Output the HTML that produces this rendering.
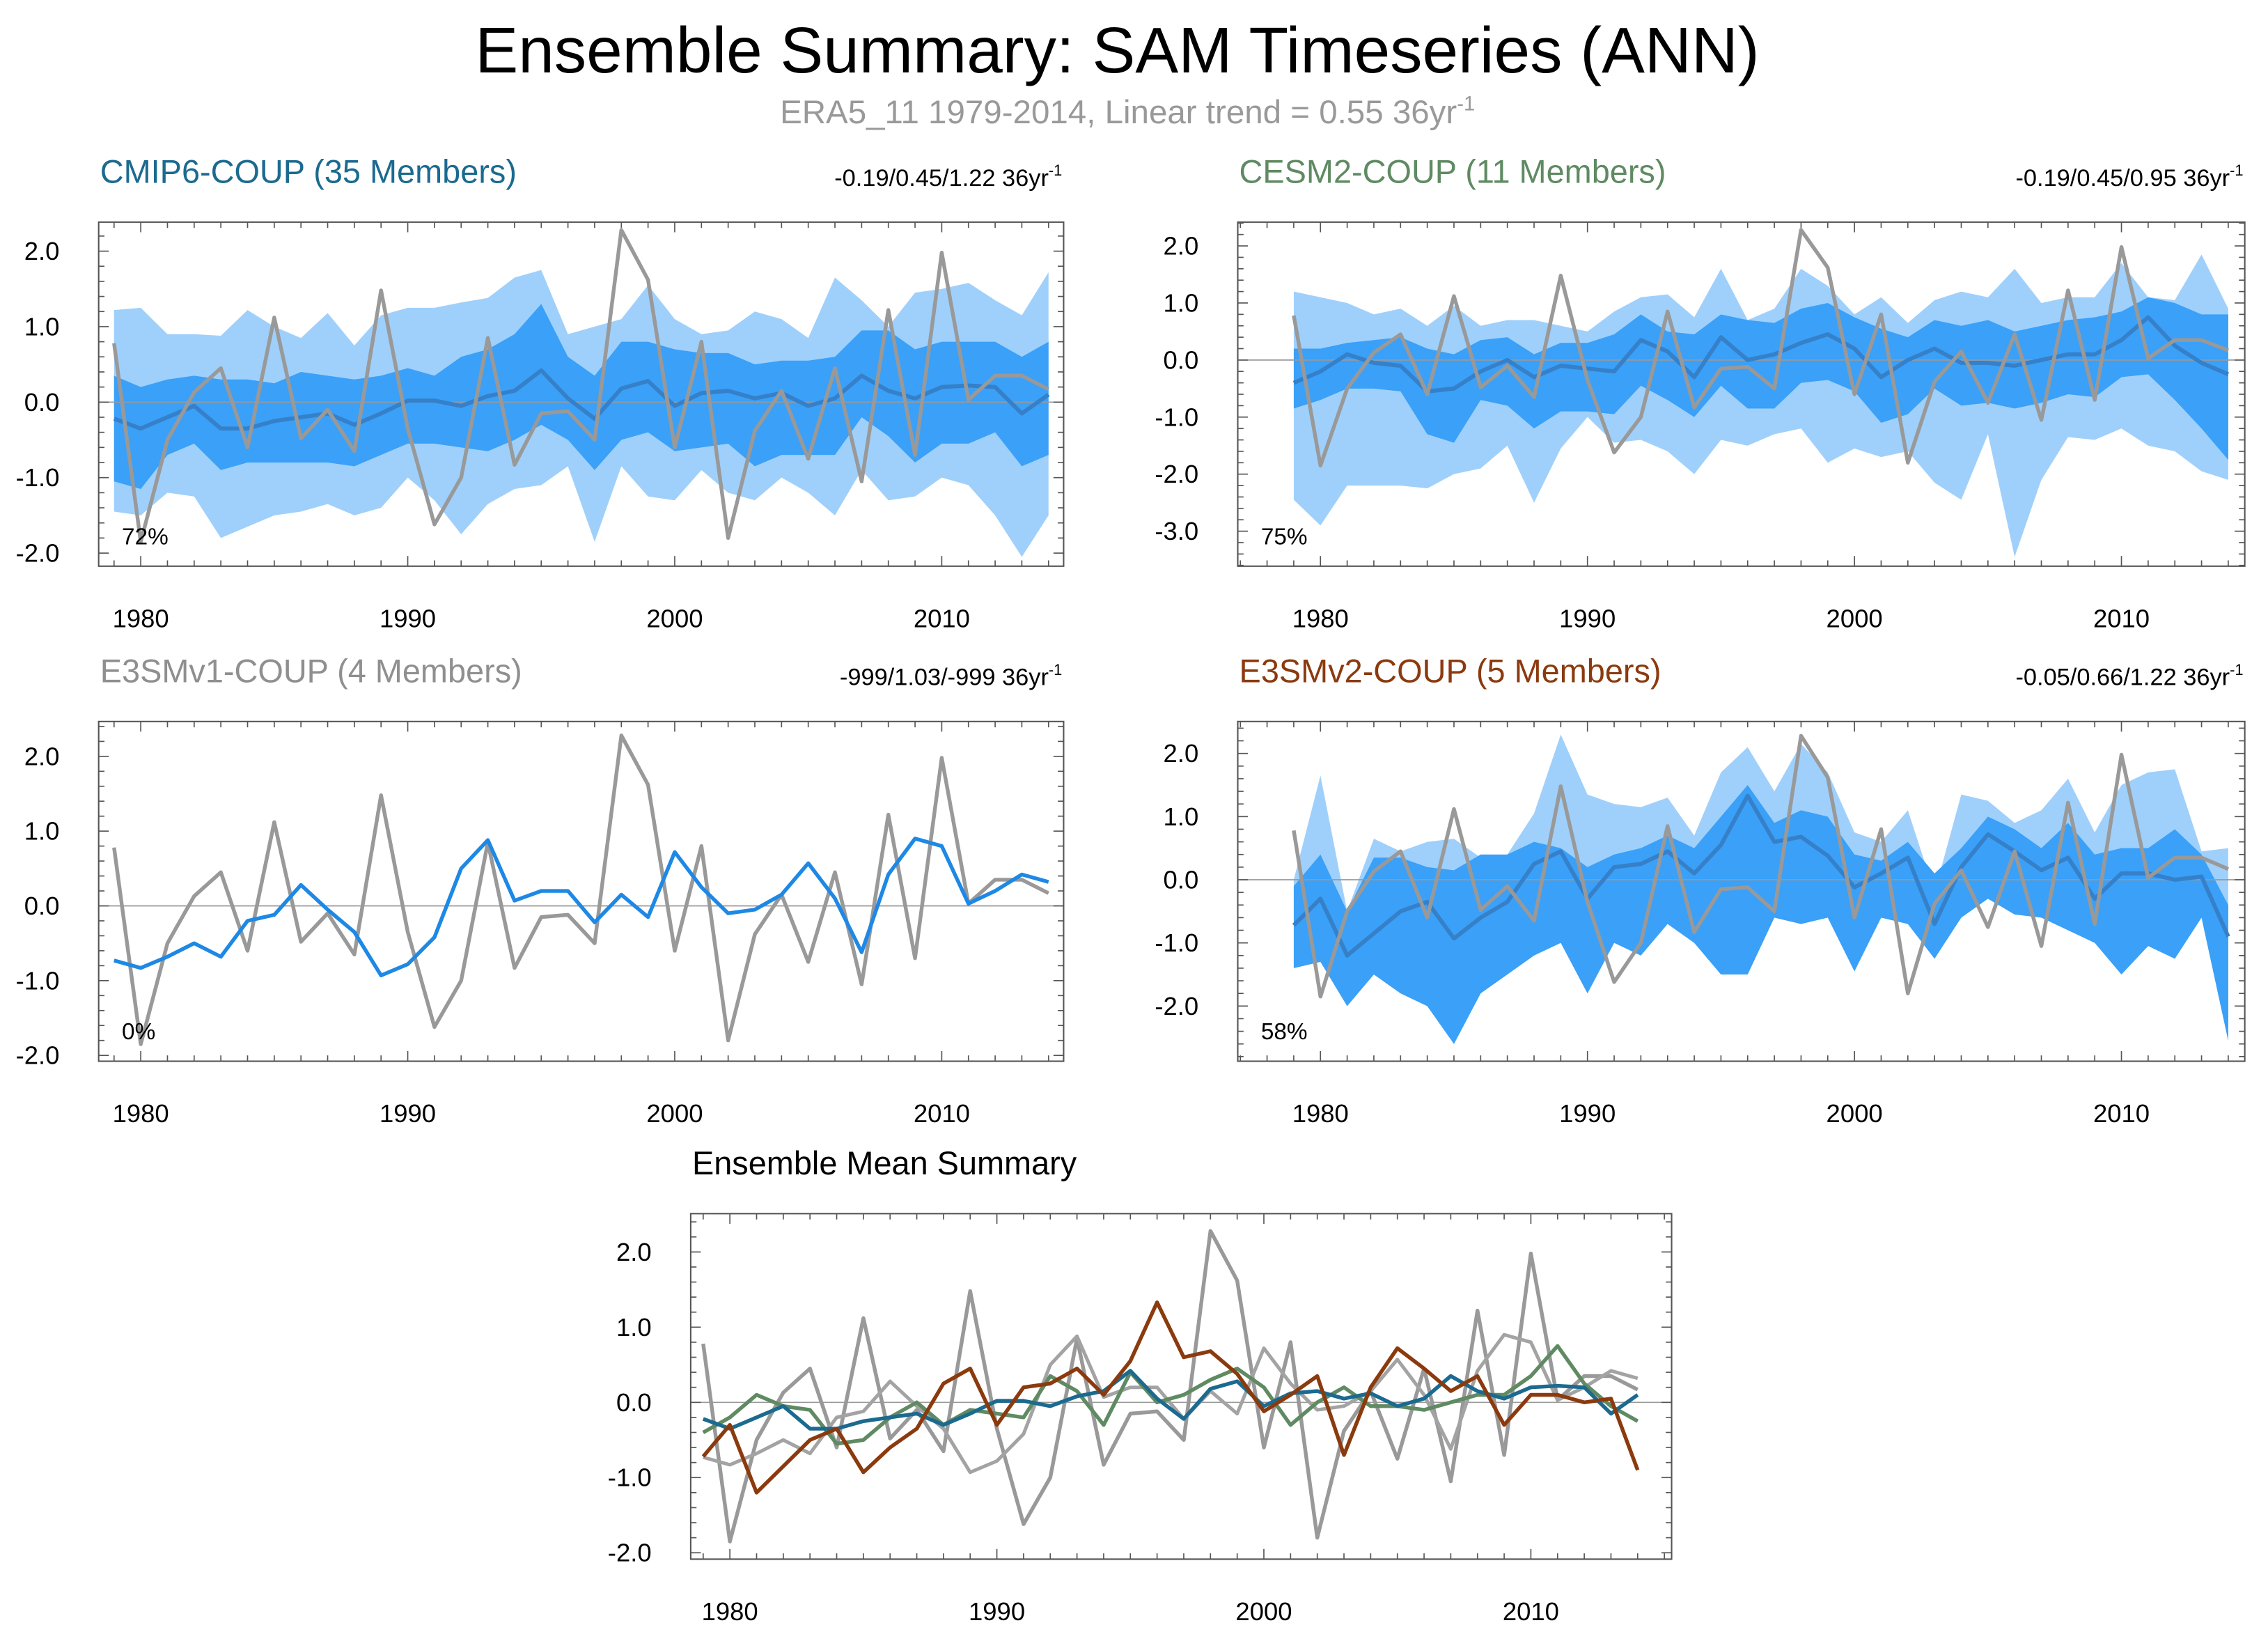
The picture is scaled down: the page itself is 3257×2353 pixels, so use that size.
<!DOCTYPE html>
<html><head><meta charset="utf-8">
<style>
html,body{margin:0;padding:0;background:#fff;}
svg{display:block;font-family:"Liberation Sans",sans-serif;}
</style></head>
<body>
<svg id="fig" width="3257" height="2353" viewBox="0 0 1563 1129" preserveAspectRatio="none" xmlns="http://www.w3.org/2000/svg">
<text x="770" y="50" font-size="44.5" text-anchor="middle" fill="#000">Ensemble Summary: SAM Timeseries (ANN)</text>
<text x="777" y="85" font-size="22.8" text-anchor="middle" fill="#999">ERA5_11 1979-2014, Linear trend = 0.55 36yr<tspan font-size="14" dy="-9">-1</tspan></text>
</svg>
<script>
const years=[];for(let y=1979;y<=2014;y++)years.push(y);
const era5=[0.78,-1.85,-0.5,0.13,0.45,-0.6,1.12,-0.48,-0.1,-0.65,1.48,-0.35,-1.62,-1.0,0.85,-0.83,-0.15,-0.12,-0.5,2.28,1.62,-0.6,0.8,-1.8,-0.38,0.15,-0.75,0.45,-1.05,1.22,-0.7,1.98,0.03,0.35,0.35,0.17];
const cmipMean=[-0.22,-0.35,-0.2,-0.05,-0.35,-0.35,-0.25,-0.2,-0.15,-0.3,-0.15,0.02,0.02,-0.05,0.08,0.15,0.42,0.05,-0.22,0.18,0.28,-0.05,0.12,0.15,0.05,0.12,-0.05,0.05,0.35,0.15,0.05,0.2,0.22,0.2,-0.15,0.1];
const cmipInUp=[0.35,0.2,0.3,0.35,0.3,0.3,0.25,0.4,0.35,0.3,0.35,0.45,0.35,0.6,0.7,0.9,1.3,0.6,0.35,0.8,0.8,0.7,0.65,0.65,0.5,0.55,0.55,0.6,0.95,0.95,0.7,0.8,0.8,0.8,0.6,0.8];
const cmipInLo=[-1.05,-1.15,-0.7,-0.55,-0.9,-0.8,-0.8,-0.8,-0.8,-0.85,-0.7,-0.55,-0.55,-0.6,-0.65,-0.5,-0.3,-0.5,-0.9,-0.5,-0.4,-0.65,-0.6,-0.55,-0.85,-0.7,-0.7,-0.7,-0.2,-0.45,-0.8,-0.55,-0.55,-0.4,-0.85,-0.7];
const cmipOutUp=[1.22,1.25,0.9,0.9,0.88,1.22,1.0,0.85,1.18,0.75,1.15,1.25,1.25,1.32,1.38,1.65,1.75,0.9,1.0,1.1,1.55,1.1,0.9,0.95,1.2,1.1,0.85,1.65,1.35,1.0,1.45,1.5,1.58,1.35,1.15,1.72];
const cmipOutLo=[-1.45,-1.5,-1.2,-1.25,-1.8,-1.65,-1.5,-1.45,-1.35,-1.5,-1.4,-1.0,-1.3,-1.75,-1.35,-1.15,-1.1,-0.85,-1.85,-0.85,-1.25,-1.3,-0.9,-1.2,-1.3,-1.0,-1.2,-1.5,-0.9,-1.3,-1.25,-1.0,-1.1,-1.5,-2.05,-1.5];
const cesmMean=[-0.4,-0.2,0.1,-0.05,-0.1,-0.55,-0.5,-0.2,0.0,-0.3,-0.1,-0.15,-0.2,0.35,0.15,-0.3,0.4,0.0,0.1,0.3,0.45,0.2,-0.3,0.0,0.2,-0.05,-0.05,-0.1,0.0,0.1,0.1,0.35,0.75,0.25,-0.05,-0.25];
const cesmInUp=[0.2,0.2,0.3,0.35,0.4,0.2,0.1,0.35,0.4,0.1,0.3,0.3,0.45,0.8,0.5,0.45,0.8,0.7,0.65,0.9,1.0,0.75,0.55,0.4,0.7,0.6,0.7,0.5,0.6,0.7,0.75,0.85,1.1,1.0,0.8,0.8];
const cesmInLo=[-0.85,-0.7,-0.5,-0.5,-0.55,-1.3,-1.45,-0.7,-0.8,-1.2,-0.9,-0.9,-0.95,-0.45,-0.7,-1.0,-0.45,-0.85,-0.85,-0.4,-0.35,-0.55,-1.1,-0.95,-0.5,-0.8,-0.75,-0.85,-0.75,-0.6,-0.65,-0.3,-0.25,-0.7,-1.2,-1.75];
const cesmOutUp=[1.2,1.1,1.0,0.8,0.9,0.6,0.95,0.6,0.7,0.7,0.6,0.5,0.85,1.1,1.15,0.75,1.6,0.7,0.9,1.6,1.3,0.8,1.1,0.65,1.05,1.2,1.1,1.6,1.0,1.1,1.1,1.7,1.1,1.05,1.85,0.9];
const cesmOutLo=[-2.45,-2.9,-2.2,-2.2,-2.2,-2.25,-2.0,-1.9,-1.5,-2.5,-1.55,-1.0,-1.45,-1.4,-1.6,-2.0,-1.4,-1.5,-1.3,-1.2,-1.8,-1.55,-1.7,-1.6,-2.15,-2.45,-1.3,-3.45,-2.1,-1.35,-1.4,-1.2,-1.5,-1.6,-1.95,-2.1];
const e3v1Mean=[-0.73,-0.83,-0.68,-0.5,-0.68,-0.2,-0.12,0.28,-0.05,-0.35,-0.93,-0.78,-0.42,0.5,0.88,0.07,0.2,0.2,-0.22,0.15,-0.15,0.72,0.25,-0.1,-0.05,0.15,0.57,0.1,-0.62,0.42,0.9,0.8,0.03,0.2,0.42,0.32];
const e3v2Mean=[-0.72,-0.3,-1.2,-0.85,-0.5,-0.35,-0.93,-0.6,-0.35,0.25,0.45,-0.3,0.2,0.25,0.45,0.1,0.55,1.33,0.6,0.68,0.38,-0.12,0.1,0.35,-0.7,0.2,0.72,0.45,0.15,0.35,-0.3,0.1,0.1,0.0,0.05,-0.9];
const e3v2InUp=[-0.1,0.4,-0.5,0.35,0.35,0.2,0.15,0.4,0.4,0.6,0.5,0.2,0.4,0.5,0.7,0.5,1.0,1.5,0.9,1.1,1.0,0.4,0.3,0.6,0.1,0.5,1.0,0.8,0.5,0.9,0.4,0.5,0.5,0.8,0.4,-0.4];
const e3v2InLo=[-1.4,-1.3,-2.0,-1.5,-1.8,-2.0,-2.6,-1.8,-1.5,-1.2,-1.0,-1.8,-1.0,-1.2,-0.7,-1.0,-1.5,-1.5,-0.6,-0.7,-0.6,-1.45,-0.6,-0.7,-1.25,-0.6,-0.3,-0.55,-0.6,-0.8,-1.0,-1.5,-1.05,-1.25,-0.6,-2.55];
const e3v2OutUp=[0.0,1.65,-0.5,0.65,0.45,0.6,0.65,0.35,0.4,1.05,2.3,1.35,1.2,1.15,1.3,0.7,1.7,2.1,1.4,2.15,1.7,0.75,0.6,1.1,-0.2,1.35,1.25,0.9,1.1,1.6,0.75,1.5,1.7,1.75,0.45,0.5];
const e3v2OutLo=[-1.4,-1.3,-2.0,-1.5,-1.8,-2.0,-2.6,-1.8,-1.5,-1.2,-1.0,-1.8,-1.0,-1.2,-0.7,-1.0,-1.5,-1.5,-0.6,-0.7,-0.6,-1.45,-0.6,-0.7,-1.25,-0.6,-0.3,-0.55,-0.6,-0.8,-1.0,-1.5,-1.05,-1.25,-0.6,-2.55];
const xTickLabels=[1980,1990,2000,2010];
const yTicks2=[2,1,0,-1,-2];
const yTicks3=[2,1,0,-1,-2,-3];

const NS="http://www.w3.org/2000/svg";
const fig=document.getElementById('fig');
function mk(tag,attrs,parent){const e=document.createElementNS(NS,tag);for(const k in attrs)e.setAttribute(k,attrs[k]);(parent||fig).appendChild(e);return e;}

function panel(o){
  const g=mk('g',{});
  
  
  const X=y=>o.x0+(y-1980)*o.pxYr;
  const Y=v=>o.yZero-v*o.pxUnit;
  function band(up,lo,col,nm){
    let d='M'+years.map((yr,i)=>X(yr)+','+Y(up[i])).join(' L');
    d+=' L'+years.slice().reverse().map((yr,j)=>{const i=years.length-1-j;return X(yr)+','+Y(lo[i]);}).join(' L')+'Z';
    const p=mk('path',{d:d,fill:col,stroke:'none'},g);
    
    
  }
  function line(vals,col,w,nm){
    const p=mk('polyline',{points:years.map((yr,i)=>X(yr)+','+Y(vals[i])).join(' '),fill:'none',stroke:col,'stroke-width':w,'stroke-linejoin':'round'},g);
    
    
  }
  if(o.outUp)band(o.outUp,o.outLo,'#9fd0fb','outer-spread-band');
  if(o.inUp)band(o.inUp,o.inLo,'#3aa0f8','inner-spread-band');
  const zl=mk('line',{x1:o.bx0,x2:o.bx1,y1:Y(0),y2:Y(0),stroke:'#999','stroke-width':0.8},g);
  
  
  (o.lines||[]).forEach(l=>line(l.v,l.c,l.w,l.n));
  const box=mk('rect',{x:o.bx0,y:o.by0,width:o.bx1-o.bx0,height:o.by1-o.by0,fill:'none',stroke:'#555','stroke-width':1},g);
  
  
  years.concat([1975,1976,1977,1978,2015,2016,2017]).forEach(yr=>{
    const x=X(yr); if(x<o.bx0||x>o.bx1)return;
    const maj=yr%10===0, L=maj?7:4;
    mk('line',{x1:x,x2:x,y1:o.by1,y2:o.by1-L,stroke:'#555','stroke-width':0.8},g);
    mk('line',{x1:x,x2:x,y1:o.by0,y2:o.by0+L,stroke:'#555','stroke-width':0.8},g);
  });
  xTickLabels.forEach(yr=>{
    const t=mk('text',{x:X(yr),y:o.by1+42,'font-size':17.5,'text-anchor':'middle'},g);t.textContent=yr;
    
    
  });
  for(let v=-4;v<=3.001;v+=0.2){
    const y=Y(v); if(y<o.by0||y>o.by1)continue;
    const maj=Math.abs(v-Math.round(v))<0.01, L=maj?7:4;
    mk('line',{x1:o.bx0,x2:o.bx0+L,y1:y,y2:y,stroke:'#555','stroke-width':0.8},g);
    mk('line',{x1:o.bx1,x2:o.bx1-L,y1:y,y2:y,stroke:'#555','stroke-width':0.8},g);
  }
  o.yt.forEach(v=>{
    const t=mk('text',{x:o.bx0-27,y:Y(v)+6,'font-size':17.5,'text-anchor':'end'},g);t.textContent=v.toFixed(1);
    
    
  });
  if(o.title){
    const t=mk('text',{x:o.bx0+1,y:o.by0-27,'font-size':22.5,fill:o.tc},g);t.textContent=o.title;
    
    
  }
  if(o.stat){
    const t=mk('text',{x:o.bx1-1,y:o.by0-25,'font-size':16.5,'text-anchor':'end'},g);
    t.innerHTML=o.stat+' 36yr<tspan font-size="10.5" dy="-7">-1</tspan>';
    
    
  }
  if(o.pct){
    const t=mk('text',{x:o.bx0+16,y:o.by1-15,'font-size':16},g);t.textContent=o.pct;
    
    
  }
}
const era={v:era5,c:'#999',w:2.6,n:'era5-line'};
panel({name:'cmip6-panel',bx0:68,bx1:733,by0:153,by1:390,x0:97,pxYr:18.4,yZero:277,pxUnit:52,yt:yTicks2,
  title:'CMIP6-COUP (35 Members)',tc:'#1b6a8f',stat:'-0.19/0.45/1.22',pct:'72%',
  outUp:cmipOutUp,outLo:cmipOutLo,inUp:cmipInUp,inLo:cmipInLo,
  lines:[{v:cmipMean,c:'#3580c8',w:2.8,n:'ensemble-mean-line'},era]});
panel({name:'cesm2-panel',bx0:853,bx1:1547,by0:153,by1:390,x0:910,pxYr:18.4,yZero:248,pxUnit:39.3,yt:yTicks3,
  title:'CESM2-COUP (11 Members)',tc:'#5f8a62',stat:'-0.19/0.45/0.95',pct:'75%',
  outUp:cesmOutUp,outLo:cesmOutLo,inUp:cesmInUp,inLo:cesmInLo,
  lines:[{v:cesmMean,c:'#3580c8',w:2.8,n:'ensemble-mean-line'},era]});
panel({name:'e3smv1-panel',bx0:68,bx1:733,by0:497,by1:731,x0:97,pxYr:18.4,yZero:624,pxUnit:51.5,yt:yTicks2,
  title:'E3SMv1-COUP (4 Members)',tc:'#8f8f8f',stat:'-999/1.03/-999',pct:'0%',
  lines:[era,{v:e3v1Mean,c:'#1e88e5',w:2.6,n:'ensemble-mean-line'}]});
panel({name:'e3smv2-panel',bx0:853,bx1:1547,by0:497,by1:731,x0:910,pxYr:18.4,yZero:606,pxUnit:43.5,yt:yTicks2,
  title:'E3SMv2-COUP (5 Members)',tc:'#8b3a0e',stat:'-0.05/0.66/1.22',pct:'58%',
  outUp:e3v2OutUp,outLo:e3v2OutLo,inUp:e3v2InUp,inLo:e3v2InLo,
  lines:[{v:e3v2Mean,c:'#3580c8',w:2.8,n:'ensemble-mean-line'},era]});
panel({name:'ensemble-mean-summary-panel',bx0:476,bx1:1152,by0:836,by1:1074,x0:503,pxYr:18.4,yZero:966,pxUnit:51.8,yt:yTicks2,
  title:'Ensemble Mean Summary',tc:'#000',
  lines:[era,{v:e3v1Mean,c:'#a3a3a3',w:2.4,n:'e3smv1-mean-line'},{v:cesmMean,c:'#5f8a62',w:2.6,n:'cesm2-mean-line'},{v:cmipMean,c:'#1b6a8f',w:2.6,n:'cmip6-mean-line'},{v:e3v2Mean,c:'#8b3a0e',w:2.6,n:'e3smv2-mean-line'}]});
</script>
</body></html>
